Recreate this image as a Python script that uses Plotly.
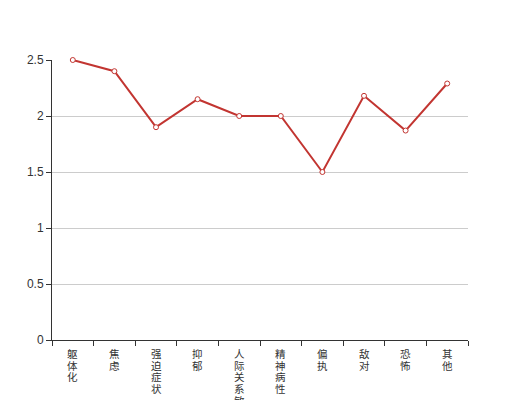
import plotly.graph_objects as go

categories = ["躯体化", "焦虑", "强迫症状", "抑郁", "人际关系敏感", "精神病性", "偏执", "敌对", "恐怖", "其他"]
values = [2.5, 2.4, 1.9, 2.15, 2.0, 2.0, 1.5, 2.18, 1.87, 2.29]
y_ticks = [0, 0.5, 1, 1.5, 2, 2.5]
y_tick_labels = ["0", "0.5", "1", "1.5", "2", "2.5"]

fig = go.Figure()
fig.add_trace(go.Scatter(
    x=categories, y=values, mode="lines+markers",
    line=dict(color="#c23531", width=2),
    marker=dict(symbol="circle", size=5, color="white", line=dict(color="#c23531", width=1)),
    cliponaxis=False,
))

# vertical category labels, one character per line
for cat in categories:
    for j, ch in enumerate(cat):
        fig.add_annotation(
            x=cat, y=0, xref="x", yref="y", text=ch, showarrow=False,
            xanchor="center", yanchor="top", yshift=-(7 + j * 11.7),
            borderpad=0,
            font=dict(family="Liberation Sans, Noto Sans CJK SC, sans-serif", size=10.5, color="#333"),
        )

fig.update_layout(
    width=520, height=400,
    margin=dict(l=44, r=60, t=52, b=68),
    plot_bgcolor="white", paper_bgcolor="white",
    showlegend=False,
    font=dict(family="Liberation Sans, Arial, sans-serif", size=12, color="#333"),
)
fig.update_xaxes(
    type="category", automargin=False,
    showticklabels=False,
    tickson="boundaries", ticks="outside", ticklen=5, tickcolor="#333",
    showline=True, linecolor="#333", linewidth=1,
    showgrid=False,
    range=[-0.5, len(categories) - 0.5],
)
fig.update_yaxes(
    range=[0, 2.5], automargin=False,
    tickmode="array", tickvals=y_ticks, ticktext=y_tick_labels,
    ticks="outside", ticklen=5, tickcolor="#333",
    showline=True, linecolor="#333", linewidth=1,
    showgrid=True, gridcolor="#ccc", gridwidth=1,
    zeroline=False,
    tickfont=dict(size=12, color="#333"),
)

fig.write_html("out.html")
